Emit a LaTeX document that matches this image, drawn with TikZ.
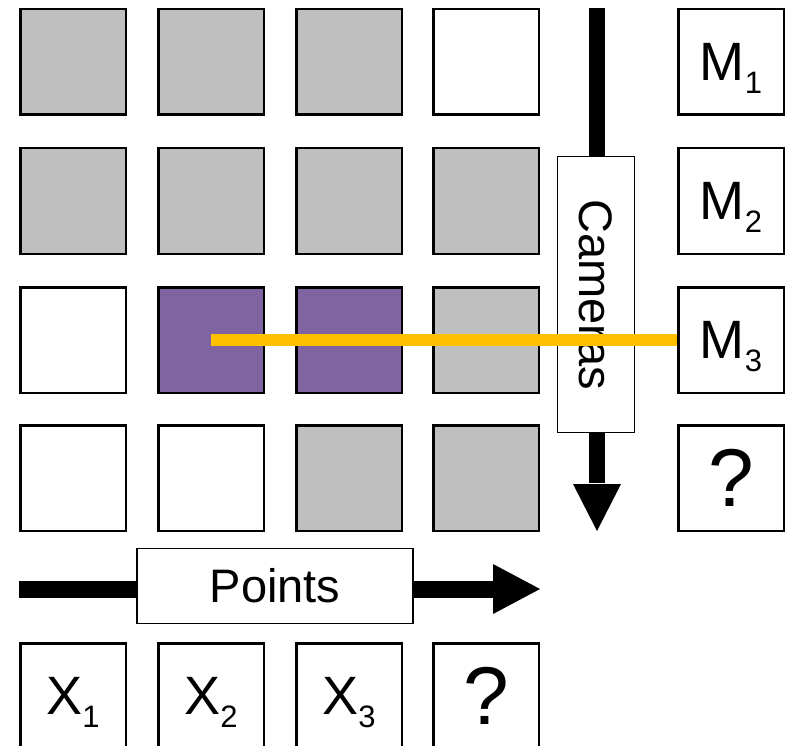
\documentclass[tikz,border=0pt]{standalone}
\usepackage{fontspec}
\setmainfont{Liberation Sans}
\definecolor{cellgray}{HTML}{BFBFBF}
\definecolor{cellpurple}{HTML}{8064A2}
\definecolor{trackorange}{HTML}{FFC000}
\newcommand{\subtxt}[1]{\smash{\raisebox{-13pt}{\fontsize{31}{31}\selectfont #1}}}
\newcommand{\bigtxt}{\fontsize{54}{60}\selectfont}
\newcommand{\qtxt}{\fontsize{82}{90}\selectfont}
\begin{document}
\begin{tikzpicture}[x=1pt,y=-1pt,
  cell/.style={draw=black, line width=2.5pt, minimum size=105.5pt, inner sep=0pt, fill=white},
  gcell/.style={cell, fill=cellgray},
  pcell/.style={cell, fill=cellpurple},
  labelbox/.style={draw=black, line width=1.5pt, fill=white, inner sep=0pt, font=\fontsize{47}{56}\selectfont},
  shaft/.style={line width=16pt, black},
  track/.style={line width=12pt, trackorange}]
\useasboundingbox (0,0) rectangle (789,746);
% grid
\node[gcell] (c11) at (73,62) {};
\node[gcell] (c12) at (211,62) {};
\node[gcell] (c13) at (349,62) {};
\node[cell]  (c14) at (486,62) {};
\node[gcell] (c21) at (73,201) {};
\node[gcell] (c22) at (211,201) {};
\node[gcell] (c23) at (349,201) {};
\node[gcell] (c24) at (486,201) {};
\node[cell]  (c31) at (73,340) {};
\node[pcell] (c32) at (211,340) {};
\node[pcell] (c33) at (349,340) {};
\node[gcell] (c34) at (486,340) {};
\node[cell]  (c41) at (73,478) {};
\node[cell]  (c42) at (211,478) {};
\node[gcell] (c43) at (349,478) {};
\node[gcell] (c44) at (486,478) {};
% M column
\node[cell] (m1) at (731,62) {\bigtxt M\subtxt{1}};
\node[cell] (m2) at (731,201) {\bigtxt M\subtxt{2}};
\node[cell] (m3) at (731,340) {\bigtxt M\subtxt{3}};
\node[cell] (m4) at (731,478) {\qtxt ?};
% X row
\node[cell] (x1) at (73,696) {\bigtxt X\subtxt{1}};
\node[cell] (x2) at (211,696) {\bigtxt X\subtxt{2}};
\node[cell] (x3) at (349,696) {\bigtxt X\subtxt{3}};
\node[cell] (x4) at (486,696) {\qtxt ?};
% Cameras arrow
\coordinate (vtop) at (597,8);
\coordinate (vtip) at (597,531);
\draw[shaft, line width=15.5pt] (vtop) -- ([yshift=48pt]vtip);
\fill[black] ([xshift=-24pt,yshift=47pt]vtip) -- ([xshift=24pt,yshift=47pt]vtip) -- (vtip) -- cycle;
\node[labelbox, rotate=-90, minimum width=276pt, minimum height=77pt] (cam) at (596,294.5) {Cameras};
% Points arrow
\coordinate (hstart) at (19,589);
\coordinate (htip) at (540,589);
\draw[shaft, line width=17pt] (hstart) -- ([xshift=-46pt]htip);
\fill[black] ([xshift=-47pt,yshift=25pt]htip) -- ([xshift=-47pt,yshift=-25pt]htip) -- (htip) -- cycle;
\node[labelbox, minimum width=276pt, minimum height=75pt] (pts) at (275,586) {Points};
% track
\draw[track] (c32.center) -- (m3.west);
\end{tikzpicture}
\end{document}
